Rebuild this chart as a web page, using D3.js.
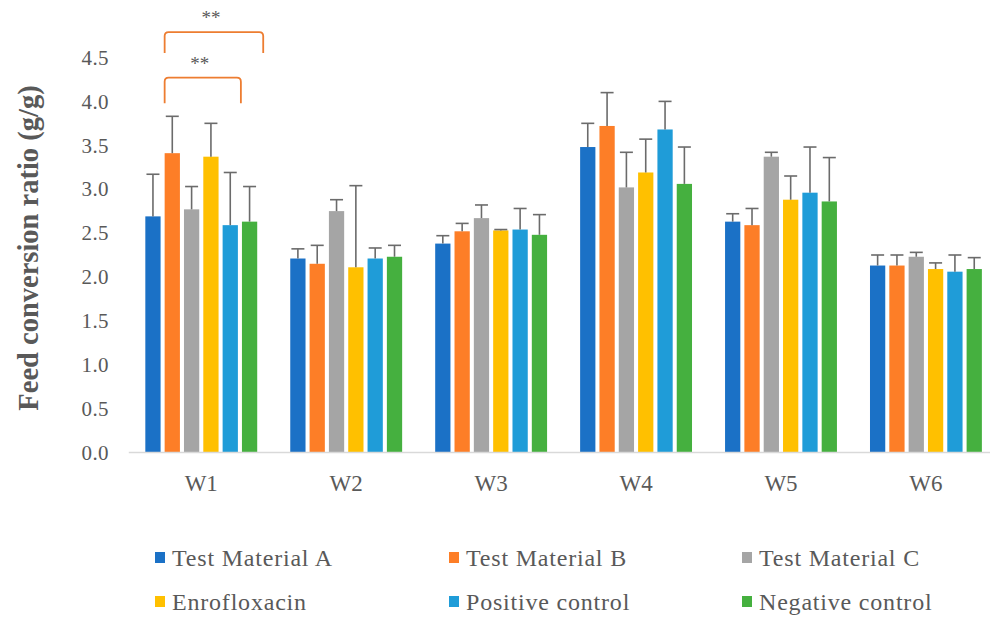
<!DOCTYPE html>
<html>
<head>
<meta charset="utf-8">
<script src="https://cdn.jsdelivr.net/npm/d3@7"></script>
<style>
  html, body { margin: 0; padding: 0; background: #fff; }
  svg { display: block; }
  text { font-family: "Liberation Serif", "Times New Roman", serif; fill: #595959; }
</style>
</head>
<body>
<svg id="chart" width="990" height="619"></svg>
<script>
// Weekly feed conversion ratio (mean ± SD) per treatment group
const weeks = ["W1", "W2", "W3", "W4", "W5", "W6"];
const groups = ["Test Material A", "Test Material B", "Test Material C",
                "Enrofloxacin", "Positive control", "Negative control"];
const colors = ["#1b71c6", "#fd7e27", "#a5a5a5", "#ffc000", "#1f9cd8", "#45b03f"];

const meanA = [2.69, 2.21, 2.38, 3.48, 2.63, 2.13];
const meanB = [3.41, 2.15, 2.52, 3.72, 2.59, 2.13];
const meanC = [2.77, 2.75, 2.67, 3.02, 3.37, 2.23];
const meanD = [3.37, 2.11, 2.53, 3.19, 2.88, 2.09];
const meanE = [2.59, 2.21, 2.54, 3.68, 2.96, 2.06];
const meanF = [2.63, 2.23, 2.48, 3.06, 2.86, 2.09];

const sdA = [0.48, 0.11, 0.09, 0.27, 0.09, 0.12];
const sdB = [0.42, 0.21, 0.09, 0.38, 0.19, 0.12];
const sdC = [0.26, 0.13, 0.15, 0.40, 0.05, 0.05];
const sdD = [0.38, 0.93, 0.01, 0.38, 0.27, 0.07];
const sdE = [0.60, 0.12, 0.24, 0.32, 0.52, 0.19];
const sdF = [0.40, 0.13, 0.23, 0.42, 0.50, 0.13];

const yTicks = [0, 0.5, 1.0, 1.5, 2.0, 2.5, 3.0, 3.5, 4.0, 4.5];

// Significance brackets in W1: week, from group, to group, top value, leg value, label
const sigWeek = ["W1", "W1"];
const sigFrom = [1, 1];
const sigTo = [5, 4];
const sigTop = [4.79, 4.27];
const sigLeg = [4.55, 3.98];
const sigLabel = ["**", "**"];

const means = [meanA, meanB, meanC, meanD, meanE, meanF];
const sds = [sdA, sdB, sdC, sdD, sdE, sdF];

const svg = d3.select("#chart");

const x0 = d3.scaleBand().domain(weeks).range([128.8, 998.4])
  .paddingInner(0.228).paddingOuter(0.114);
const x1 = d3.scaleBand().domain(d3.range(groups.length))
  .range([0, x0.bandwidth()]).paddingInner(0.21).paddingOuter(0);
const y = d3.scaleLinear().domain([0, 4.5]).range([452.5, 57.5]);

// Bars
const rows = [];
weeks.forEach((w, wi) => {
  groups.forEach((g, gi) => {
    rows.push({ week: w, gi, mean: means[gi][wi], sd: sds[gi][wi] });
  });
});

const plot = svg.append("g");
plot.selectAll("rect.bar").data(rows).join("rect")
  .attr("class", "bar")
  .attr("x", d => x0(d.week) + x1(d.gi))
  .attr("width", x1.bandwidth())
  .attr("y", d => y(d.mean))
  .attr("height", d => y(0) - y(d.mean))
  .attr("fill", d => colors[d.gi]);

// Error bars (upper only)
const capW = 13;
const cx = d => x0(d.week) + x1(d.gi) + x1.bandwidth() / 2;
const err = plot.selectAll("g.err").data(rows).join("g").attr("class", "err")
  .attr("stroke", "#6b6b6b").attr("stroke-width", 1.6);
err.append("line")
  .attr("x1", cx).attr("x2", cx)
  .attr("y1", d => y(d.mean))
  .attr("y2", d => y(d.mean + d.sd));
err.append("line")
  .attr("x1", d => cx(d) - capW / 2)
  .attr("x2", d => cx(d) + capW / 2)
  .attr("y1", d => y(d.mean + d.sd))
  .attr("y2", d => y(d.mean + d.sd));

// Category axis
const xAxis = svg.append("g").attr("transform", `translate(0,${y(0)})`)
  .call(d3.axisBottom(x0).tickSize(0).tickPadding(22));
xAxis.select(".domain").attr("stroke", "#d9d9d9").attr("stroke-width", 1.5)
  .attr("d", `M128.8,0H990`);
xAxis.selectAll("text").attr("font-size", 23).attr("fill", "#595959")
  .style("font-family", "'Liberation Serif', serif");

// Value axis (labels only)
const yAxis = svg.append("g").attr("transform", "translate(109,0)")
  .call(d3.axisLeft(y).tickValues(yTicks).tickFormat(d3.format(".1f")).tickSize(0).tickPadding(0));
yAxis.select(".domain").remove();
yAxis.selectAll("text").attr("font-size", 21).attr("fill", "#595959")
  .attr("letter-spacing", 0.4)
  .style("font-family", "'Liberation Serif', serif");

// Axis title
svg.append("text")
  .attr("transform", "translate(38,248) rotate(-90)")
  .attr("text-anchor", "middle")
  .attr("font-size", 28.5).attr("font-weight", "bold")
  .text("Feed conversion ratio (g/g)");

// Significance brackets
const r = 4;
sigWeek.forEach((w, i) => {
  const xa = x0(w) + x1(sigFrom[i]);
  const xb = x0(w) + x1(sigTo[i]) + x1.bandwidth() + (sigTo[i] === 5 ? 6 : 3);
  const yt = y(sigTop[i]), yl = y(sigLeg[i]);
  svg.append("path")
    .attr("d", `M${xa},${yl}V${yt + r}Q${xa},${yt} ${xa + r},${yt}H${xb - r}Q${xb},${yt} ${xb},${yt + r}V${yl}`)
    .attr("fill", "none").attr("stroke", "#ed7d31").attr("stroke-width", 1.8);
  svg.append("text")
    .attr("x", (xa + xb) / 2 - 3).attr("y", yt - 8)
    .attr("text-anchor", "middle").attr("font-size", 19).attr("fill", "#404040")
    .text(sigLabel[i]);
});

// Legend: two rows, three columns
const legCols = [155, 449, 742];
const legRows = [558, 602];
const leg = svg.append("g").selectAll("g").data(groups).join("g")
  .attr("transform", (d, i) => `translate(${legCols[i % 3]},${legRows[Math.floor(i / 3)]})`);
leg.append("rect").attr("x", 0).attr("y", -6).attr("width", 10).attr("height", 11)
  .attr("fill", (d, i) => colors[i]);
leg.append("text").attr("x", 17).attr("y", 0).attr("dy", "0.35em")
  .attr("font-size", 24).attr("letter-spacing", 0.8).attr("fill", "#595959")
  .text(d => d);
</script>
</body>
</html>
